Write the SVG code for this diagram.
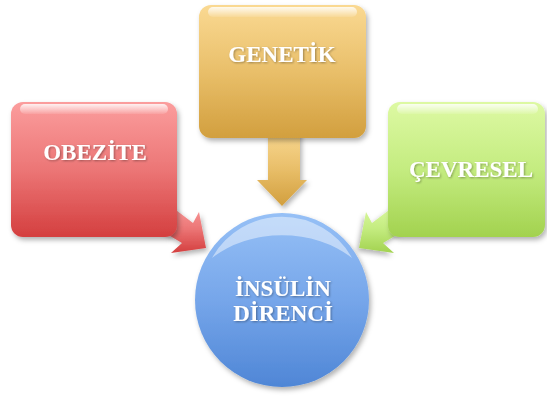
<svg xmlns="http://www.w3.org/2000/svg" width="547" height="396" viewBox="0 0 547 396">
<style>
.lbl{font-family:"Liberation Serif","Times New Roman",serif;font-weight:bold;font-size:23px;fill:#ffffff;text-anchor:middle}
.gloss{fill:url(#gloss)}
</style>
<defs>
<linearGradient id="red" x1="0" y1="0" x2="0" y2="1">
<stop offset="0" stop-color="#fb9d9d"/><stop offset="0.5" stop-color="#ec7676"/><stop offset="1" stop-color="#d43f3f"/>
</linearGradient>
<linearGradient id="gold" x1="0" y1="0" x2="0" y2="1">
<stop offset="0" stop-color="#fad992"/><stop offset="0.5" stop-color="#e9bf6a"/><stop offset="1" stop-color="#d29f3e"/>
</linearGradient>
<linearGradient id="green" x1="0" y1="0" x2="0" y2="1">
<stop offset="0" stop-color="#ddf9a3"/><stop offset="0.5" stop-color="#c4ec80"/><stop offset="1" stop-color="#a2d24f"/>
</linearGradient>
<linearGradient id="blue" x1="0" y1="0" x2="0" y2="1">
<stop offset="0" stop-color="#96c0f6"/><stop offset="0.5" stop-color="#76a6ea"/><stop offset="1" stop-color="#4f86d6"/>
</linearGradient>
<linearGradient id="gloss" x1="0" y1="0" x2="0" y2="1">
<stop offset="0" stop-color="#ffffff" stop-opacity="0.85"/><stop offset="1" stop-color="#ffffff" stop-opacity="0.1"/>
</linearGradient>
<filter id="sh" x="-20%" y="-20%" width="140%" height="140%">
<feDropShadow dx="2" dy="3" stdDeviation="2.5" flood-color="#000" flood-opacity="0.3"/>
</filter>
<filter id="ts"><feDropShadow dx="1" dy="1" stdDeviation="0.8" flood-color="#000" flood-opacity="0.35"/></filter>
</defs>
<g id="connectors">
<polygon points="168,204 193,223 199,212 206,248 171,253 182,243 160,230" fill="url(#red)" filter="url(#sh)"/>
<polygon points="268,130 300,130 300,180 307,180 282,206 257,180 268,180" fill="url(#gold)" filter="url(#sh)"/>
<polygon transform="translate(565,0) scale(-1,1)" points="168,204 193,223 199,212 206,248 171,253 182,243 160,230" fill="url(#green)" filter="url(#sh)"/>
</g>
<g id="obezite">
<rect x="11" y="102" width="166" height="135" rx="12" fill="url(#red)" filter="url(#sh)"/>
<rect x="20" y="104" width="148" height="10" rx="5" class="gloss"/>
<text class="lbl" x="95" y="160" filter="url(#ts)">OBEZİTE</text>
</g>
<g id="genetik">
<rect x="199" y="5" width="167" height="133" rx="12" fill="url(#gold)" filter="url(#sh)"/>
<rect x="208" y="7" width="149" height="10" rx="5" class="gloss"/>
<text class="lbl" x="282" y="62" filter="url(#ts)">GENETİK</text>
</g>
<g id="cevresel">
<rect x="388" y="102" width="157" height="135" rx="12" fill="url(#green)" filter="url(#sh)"/>
<rect x="397" y="104" width="141" height="10" rx="5" class="gloss"/>
<text class="lbl" x="471" y="177" filter="url(#ts)">ÇEVRESEL</text>
</g>
<g id="insulin">
<circle cx="282" cy="300" r="87" fill="url(#blue)" filter="url(#sh)"/>
<path d="M212,258 A80,80 0 0 1 352,258 A95,70 0 0 0 212,258 Z" fill="#ffffff" opacity="0.45"/>
<text class="lbl" x="283" y="296" filter="url(#ts)">İNSÜLİN</text>
<text class="lbl" x="283" y="321" filter="url(#ts)">DİRENCİ</text>
</g>
</svg>
